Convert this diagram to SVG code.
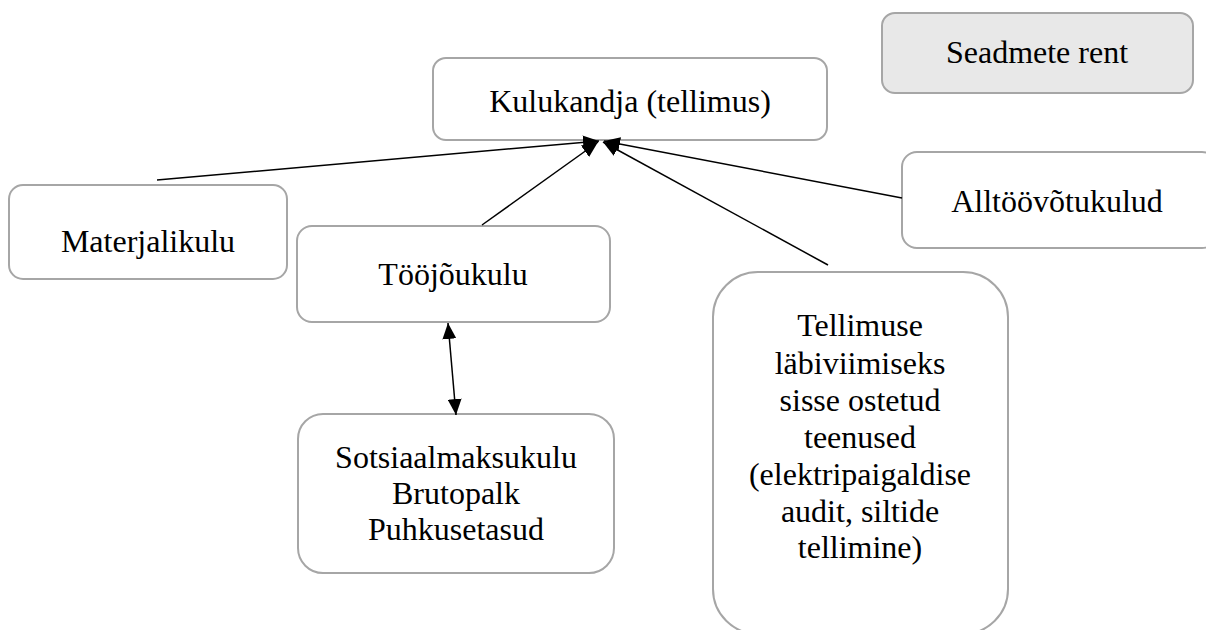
<svg xmlns="http://www.w3.org/2000/svg" width="1206" height="630" viewBox="0 0 1206 630">
<defs>
<marker id="ahb" viewBox="0 0 16 14" refX="16" refY="7" markerWidth="16" markerHeight="14" markerUnits="userSpaceOnUse" orient="auto-start-reverse">
<path d="M0,0 L16,7 L0,14 z" fill="#000"/>
</marker>
<style>
.box{fill:#fff;stroke:#a6a6a6;stroke-width:2}
.grey{fill:#e8e8e8}
.t{font-family:"Liberation Serif","Times New Roman",serif;font-size:32px;fill:#000;text-anchor:middle}
.c{stroke:#000;stroke-width:1.5;fill:none}
</style>
</defs>
<rect width="1206" height="630" fill="#fff"/>
<g id="kulukandja">
<rect class="box" x="433" y="58" width="394" height="82" rx="13"/>
<text class="t" x="630" y="112">Kulukandja (tellimus)</text>
</g>
<g id="seadmete">
<rect class="box grey" x="882" y="13" width="311" height="80" rx="13"/>
<text class="t" x="1037" y="63">Seadmete rent</text>
</g>
<g id="materjalikulu">
<rect class="box" x="9" y="185" width="278" height="94" rx="14"/>
<text class="t" x="148" y="252">Materjalikulu</text>
</g>
<g id="toojoukulu">
<rect class="box" x="297" y="226" width="313" height="96" rx="15"/>
<text class="t" x="453" y="285">Tööjõukulu</text>
</g>
<g id="alltoovotukulud">
<rect class="box" x="902" y="152" width="315" height="96" rx="15"/>
<text class="t" x="1057" y="212">Alltöövõtukulud</text>
</g>
<g id="sotsiaal">
<rect class="box" x="298" y="414" width="316" height="159" rx="25"/>
<text class="t" x="456" y="468">Sotsiaalmaksukulu</text>
<text class="t" x="456" y="504">Brutopalk</text>
<text class="t" x="456" y="540">Puhkusetasud</text>
</g>
<g id="tellimuse">
<rect class="box" x="713" y="272" width="295" height="362" rx="45"/>
<text class="t" x="860" y="336">Tellimuse</text>
<text class="t" x="860" y="374">läbiviimiseks</text>
<text class="t" x="860" y="411">sisse ostetud</text>
<text class="t" x="860" y="448">teenused</text>
<text class="t" x="860" y="485">(elektripaigaldise</text>
<text class="t" x="860" y="522">audit, siltide</text>
<text class="t" x="860" y="558">tellimine)</text>
</g>
<g id="connectors">
<line class="c" x1="157" y1="180" x2="599" y2="141" marker-end="url(#ahb)"/>
<line class="c" x1="482" y1="225" x2="598" y2="142" marker-end="url(#ahb)"/>
<line class="c" x1="828" y1="265" x2="603" y2="142" marker-end="url(#ahb)"/>
<line class="c" x1="902" y1="198" x2="604" y2="141" marker-end="url(#ahb)"/>
<line class="c" x1="448" y1="323" x2="456" y2="415" marker-start="url(#ahb)" marker-end="url(#ahb)"/>
</g>
</svg>
